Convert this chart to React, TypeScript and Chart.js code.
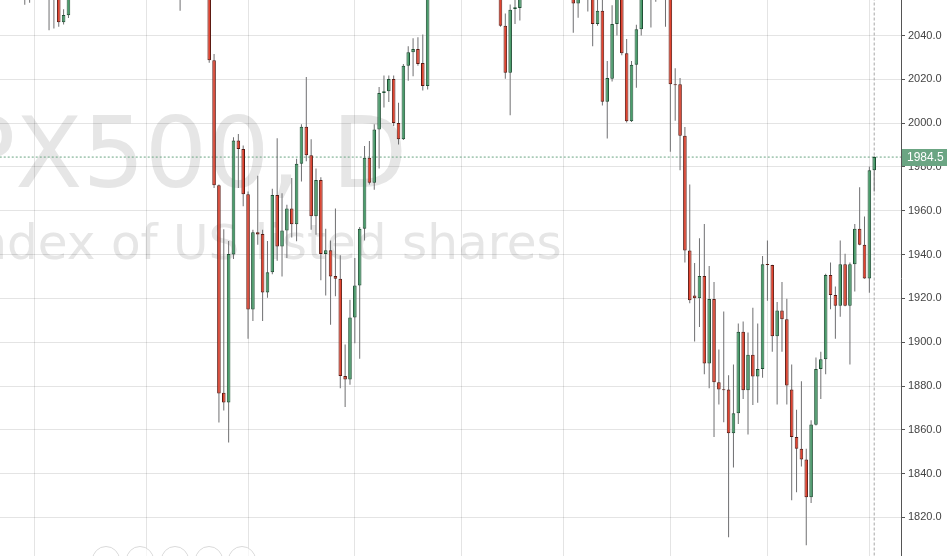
import { useEffect, useRef } from "react";
import { Chart, registerables } from "chart.js";

Chart.register(...registerables);

// ---- data (daily candles, oldest first) ----
const opens = [
  2098, 2101, 2104, 2095, 2088, 2093, 2061, 2068, 2075, 2074,
  2071, 2065, 2072, 2046, 2049.2, 2068, 2085, 2092, 2106, 2104,
  2112, 2110, 2098, 2100, 2086, 2069, 2090, 2106, 2102, 2106,
  2102, 2097, 2092, 2098, 2082, 2077, 2102, 2081, 2086, 2083,
  2089, 2101, 2095, 2076, 2028.7, 1971.6, 1876.9, 1872.5, 1940, 1992.1,
  1988.2, 1967.5, 1914.9, 1950.2, 1949.4, 1922.7, 1931.9, 1967.2, 1943.7, 1951,
  1961, 1953.8, 1981.4, 1998.3, 1985.3, 1957.5, 1974, 1940.2, 1942, 1930.2,
  1929, 1884.6, 1883, 1911.3, 1925.9, 1951.8, 1984.2, 1972.8, 1997.1, 2013.8,
  2014.6, 2020.1, 2000, 1992.6, 2026.2, 2032.4, 2033.8, 2027.4, 2017, 2062,
  2070, 2075, 2072, 2090, 2089, 2080, 2104, 2109, 2102, 2099,
  2100, 2093, 2081, 2070, 2044.5, 2023, 2052.1, 2052.6, 2063, 2083,
  2086, 2089, 2088, 2090, 2081, 2090, 2080, 2102, 2079, 2054.6,
  2091, 2075, 2066, 2045.3, 2051.3, 2009.7, 2020.3, 2045.3, 2062, 2031.9,
  2000.8, 2026.7, 2042.8, 2060, 2072, 2064, 2060, 2063, 2060, 2017.7,
  2017.7, 1994.2, 1941.9, 1921.3, 1920, 1930.2, 1890.3, 1919.7, 1881.7, 1878.4,
  1878.4, 1858.4, 1867.6, 1904.8, 1878.1, 1894.3, 1884.3, 1887.8, 1935.6, 1935.2,
  1902.7, 1914.5, 1910.5, 1878.4, 1856.7, 1851.4, 1846.5, 1829.2, 1862.3, 1887.8,
  1892.2, 1930.7, 1921.5, 1916.6, 1935.6, 1916.6, 1935.6, 1951.8, 1944.5, 1929.1,
  1978.5,
];
const highs = [
  2107, 2110, 2108, 2100, 2096, 2095, 2074, 2080, 2082, 2078,
  2077, 2076, 2074, 2052, 2072, 2088, 2094, 2110, 2110, 2116,
  2114, 2111, 2104, 2102, 2090, 2092, 2108, 2108, 2110, 2108,
  2104, 2100, 2104, 2100, 2085, 2105, 2103, 2089, 2090, 2093,
  2104, 2104, 2097, 2078, 2031.6, 1972, 1951.5, 1946.2, 1993.6, 1995,
  1989.8, 1968.8, 1951.3, 1976, 1951.3, 1946.2, 1970, 1993.1, 1968, 1962.7,
  1975, 1983.7, 1999.5, 2021, 1992.6, 1979.3, 1975.3, 1951.8, 1946.4, 1961,
  1939.7, 1898.9, 1919.4, 1938.4, 1952.6, 1989.5, 1991.8, 1999.5, 2016.5, 2021.7,
  2021.7, 2021.7, 2009.3, 2027, 2035.1, 2038.7, 2039.2, 2040.5, 2066, 2074,
  2079, 2080, 2094, 2095, 2092, 2107, 2114, 2112, 2106, 2104,
  2104, 2096, 2084, 2072, 2050, 2054.2, 2060, 2066, 2086, 2090,
  2094, 2094, 2095, 2093, 2094, 2093, 2104, 2104, 2081, 2093,
  2094, 2080, 2071, 2058, 2060, 2028.3, 2053.8, 2066, 2065, 2038.4,
  2028.3, 2044.9, 2062, 2076, 2077, 2068, 2066, 2065, 2062, 2025.1,
  2020.6, 1998.2, 1972, 1936.1, 1947.4, 1953.9, 1934.8, 1927.5, 1896.7, 1914,
  1884.9, 1889.8, 1908.5, 1909.5, 1904.4, 1915.7, 1908.5, 1939.3, 1946.4, 1935.4,
  1918.3, 1927.5, 1919.8, 1889.8, 1869.2, 1882.2, 1851.4, 1864.4, 1893, 1895.6,
  1931.2, 1936.4, 1925.4, 1946.4, 1940.4, 1936.4, 1953.9, 1970.7, 1957.4, 1980.1,
  1984.9,
];
const lows = [
  2090, 2095, 2092, 2083, 2080, 2054, 2055, 2065, 2070, 2060,
  2042.4, 2043.2, 2044, 2045, 2048, 2066, 2082, 2090, 2100, 2102,
  2106, 2096, 2094, 2084, 2062, 2063, 2088, 2098, 2100, 2100,
  2094, 2088, 2090, 2078, 2066, 2074, 2082, 2051.3, 2076, 2080,
  2086, 2092, 2070, 2027.5, 1970.4, 1863.3, 1868.8, 1854.2, 1938, 1970.4,
  1962, 1901.6, 1909.7, 1944.5, 1909.7, 1920.3, 1931, 1937.2, 1930, 1938.4,
  1947.8, 1946.1, 1973.3, 1982.6, 1951.3, 1949, 1928.3, 1921.3, 1908, 1921,
  1879, 1870.4, 1880.6, 1899.5, 1892.4, 1946.4, 1972, 1969.6, 1979.3, 2007.1,
  2009.6, 1998.7, 1990.2, 1992.3, 2019.3, 2021.4, 2026.2, 2014.9, 2015.4, 2058,
  2066, 2068, 2070, 2084, 2070, 2078, 2100, 2098, 2094, 2094,
  2088, 2078, 2064, 2044, 2020.3, 2003.6, 2045.2, 2046.8, 2060, 2078,
  2082, 2082, 2084, 2072, 2078, 2076, 2078, 2075, 2041.3, 2048.1,
  2068, 2051, 2035.1, 2044.5, 2008, 1993, 2019, 2040, 2031, 2000.3,
  2000.5, 2016.2, 2040, 2058, 2043.6, 2055.4, 2057, 2044, 1986.9, 2001.1,
  1978.5, 1936.4, 1917.8, 1900.3, 1906.9, 1885.4, 1879, 1856.7, 1871.6, 1863.5,
  1811, 1842.8, 1862.7, 1874.1, 1857.9, 1871.3, 1872.4, 1883.8, 1918.9, 1895.6,
  1871.6, 1895.6, 1871.6, 1827.9, 1831.5, 1843.3, 1807.3, 1826.6, 1862, 1874.1,
  1885.4, 1915, 1901.6, 1911.6, 1916.4, 1889.8, 1923.1, 1944.3, 1929, 1922.6,
  1968.8,
];
const closes = [
  2101, 2104, 2095, 2088, 2093, 2061, 2068, 2075, 2074, 2071,
  2065, 2072, 2046, 2049.4, 2068, 2085, 2092, 2106, 2104, 2112,
  2110, 2098, 2100, 2086, 2069, 2090, 2106, 2102, 2106, 2102,
  2097, 2092, 2098, 2082, 2076, 2102, 2084, 2086, 2083, 2091,
  2102, 2096, 2079, 2028.7, 1971.6, 1876.6, 1872.5, 1940.2, 1992.1, 1988.2,
  1967.5, 1914.9, 1950.2, 1949.1, 1922.7, 1931.9, 1967.2, 1943.7, 1951, 1961,
  1953.8, 1981.4, 1998.3, 1985.3, 1957.5, 1974, 1940.2, 1942, 1930, 1929,
  1884.6, 1883, 1911.3, 1925.9, 1951.8, 1984.2, 1972.8, 1997.1, 2013.8, 2014.6,
  2020.1, 2000, 1992.6, 2026.2, 2032.4, 2033.8, 2027, 2017, 2062, 2070,
  2075, 2072, 2090, 2089, 2080, 2104, 2109, 2102, 2099, 2100,
  2093, 2081, 2070, 2044.5, 2023, 2051.8, 2052.9, 2063, 2083, 2086,
  2089, 2088, 2090, 2081, 2090, 2080, 2102, 2079, 2054.6, 2091,
  2075, 2060, 2045.3, 2051.3, 2009.7, 2020.6, 2045.3, 2062, 2031.9, 2000.8,
  2026.7, 2042.8, 2060, 2072, 2064, 2060, 2063, 2060, 2017.7, 2017.3,
  1994.2, 1941.9, 1919.1, 1920, 1930.2, 1890.3, 1919.7, 1881.7, 1878.4, 1878.1,
  1858.4, 1867.6, 1904.8, 1878.1, 1894.3, 1884.3, 1887.8, 1935.6, 1935.2, 1902.7,
  1914.5, 1910.5, 1880.2, 1856.7, 1851.4, 1846.5, 1829.2, 1862.4, 1887.8, 1892.2,
  1930.7, 1921.5, 1916.6, 1935.6, 1916.6, 1935.6, 1951.8, 1944.5, 1929.1, 1978.5,
  1984.5,
];

// bar indices where a new month starts (vertical grid lines)
const monthStartBars = [7, 30, 51, 73, 95, 116, 138, 158, 179];
// price-axis tick values
const priceTicks = [1820, 1840, 1860, 1880, 1900, 1920, 1940, 1960, 1980, 2000, 2020, 2040];

const symbolTitle = "SPX500, D";
const symbolDescription = "Index of US listed shares";

// ---- styles ----
const UP = "#4a9e6c";
const DOWN = "#e2432f";
const UP_BORDER = "#1f4f34";
const DOWN_BORDER = "#5b1a13";
const PRICE_LABEL = "#6ba583";
const WICK = "#6f6f71";
const GRID = "rgba(0,0,0,0.105)";
const Y_MIN = 1802.4;
const Y_MAX = 2056.2;
const X_MIN = -0.103;
const X_MAX = 185.52;
const navButtonCenters = [105.5, 139.7, 174.7, 208.7, 242];

export default function App() {
  const canvasRef = useRef<HTMLCanvasElement | null>(null);

  useEffect(() => {
    document.body.style.margin = "0";
    const canvas = canvasRef.current;
    if (!canvas) return;
    const lastIndex = closes.length - 1;
    const lastPrice = closes[lastIndex];
    const idx = opens.map((_, i) => i);
    const isUp = idx.map((i) => closes[i] >= opens[i]);

    const watermark = {
      id: "watermark",
      beforeDraw(chart: any) {
        const { ctx, chartArea } = chart;
        ctx.save();
        ctx.beginPath();
        ctx.rect(chartArea.left, chartArea.top, chartArea.right - chartArea.left, chartArea.bottom - chartArea.top);
        ctx.clip();
        ctx.fillStyle = "#e6e6e6";
        ctx.textBaseline = "alphabetic";
        ctx.textAlign = "left";
        ctx.font = '98px "DejaVu Sans"';
        ctx.fillText(symbolTitle, -106, 187);
        ctx.font = '48.5px "DejaVu Sans"';
        ctx.fillText(symbolDescription, -38, 259);
        ctx.restore();
      },
    };

    const priceLabel = {
      id: "priceLabel",
      afterDraw(chart: any) {
        const { ctx, chartArea, scales } = chart;
        const y = Math.round(scales.y.getPixelForValue(lastPrice));
        ctx.save();
        ctx.fillStyle = PRICE_LABEL;
        ctx.fillRect(chartArea.right + 1, y - 8, 45, 17);
        ctx.fillStyle = "#ffffff";
        ctx.font = '12px "Liberation Sans", Arial, sans-serif';
        ctx.textBaseline = "middle";
        ctx.textAlign = "left";
        ctx.fillText(lastPrice.toFixed(1), chartArea.right + 6, y + 1);
        ctx.restore();
      },
    };

    const chart = new Chart(canvas, {
      type: "bar",
      data: {
        datasets: [
          {
            type: "line",
            data: [
              { x: X_MIN - 5, y: lastPrice },
              { x: X_MAX + 5, y: lastPrice },
            ],
            borderColor: PRICE_LABEL,
            borderWidth: 1,
            borderDash: [2, 2],
            pointRadius: 0,
            order: 4,
          } as any,
          {
            type: "line",
            data: [
              { x: lastIndex, y: Y_MIN - 50 },
              { x: lastIndex, y: Y_MAX + 50 },
            ],
            borderColor: "#a8a8a8",
            borderWidth: 1,
            borderDash: [3, 2],
            pointRadius: 0,
            order: 3,
          } as any,
          {
            type: "bar",
            data: idx.map((i) => ({ x: i, y: [lows[i], highs[i]] })),
            backgroundColor: WICK,
            borderWidth: 0,
            barThickness: 1,
            grouped: false,
            inflateAmount: 0,
            order: 2,
          } as any,
          {
            type: "bar",
            data: idx.map((i) => ({ x: i, y: [opens[i], closes[i]] })),
            backgroundColor: isUp.map((u) => (u ? UP : DOWN)),
            borderColor: isUp.map((u) => (u ? UP_BORDER : DOWN_BORDER)),
            borderWidth: 1,
            borderSkipped: false,
            barThickness: 3.6,
            minBarLength: 1,
            grouped: false,
            inflateAmount: 0,
            order: 1,
          } as any,
        ],
      },
      options: {
        responsive: false,
        animation: false,
        devicePixelRatio: 1,
        events: [],
        layout: { padding: 0 },
        plugins: {
          legend: { display: false },
          tooltip: { enabled: false },
        },
        scales: {
          x: {
            type: "linear",
            min: X_MIN,
            max: X_MAX,
            offset: false,
            ticks: { display: false },
            grid: { color: GRID, drawTicks: false, offset: false },
            border: { display: false },
            afterBuildTicks: (scale: any) => {
              scale.ticks = monthStartBars.map((v) => ({ value: v }));
            },
            afterFit: (scale: any) => {
              scale.height = 0;
              scale.paddingLeft = 0;
              scale.paddingRight = 0;
            },
          },
          y: {
            type: "linear",
            position: "right",
            min: Y_MIN,
            max: Y_MAX,
            afterBuildTicks: (scale: any) => {
              scale.ticks = priceTicks.map((v) => ({ value: v }));
            },
            afterFit: (scale: any) => {
              scale.width = 47;
              scale.paddingTop = 0;
              scale.paddingBottom = 0;
            },
            ticks: {
              callback: (v: any) => Number(v).toFixed(1),
              color: "#444444",
              font: { family: '"Liberation Sans", Arial, sans-serif', size: 11 },
              padding: 3,
            },
            grid: { color: GRID, tickColor: "#555555", tickLength: 4 },
            border: { display: true, color: "#555555" },
          },
        },
      } as any,
      plugins: [watermark, priceLabel],
    });

    return () => chart.destroy();
  }, []);

  return (
    <div style={{ position: "relative", width: 948, height: 556, overflow: "hidden", background: "#ffffff" }}>
      <canvas ref={canvasRef} width={948} height={556} style={{ display: "block" }} />
      {navButtonCenters.map((cx) => (
        <div
          key={cx}
          style={{
            position: "absolute",
            left: cx - 14,
            top: 546,
            width: 28,
            height: 28,
            borderRadius: "50%",
            border: "1px solid #dadada",
            background: "rgba(255,255,255,0.7)",
            boxSizing: "border-box",
          }}
        />
      ))}
    </div>
  );
}
